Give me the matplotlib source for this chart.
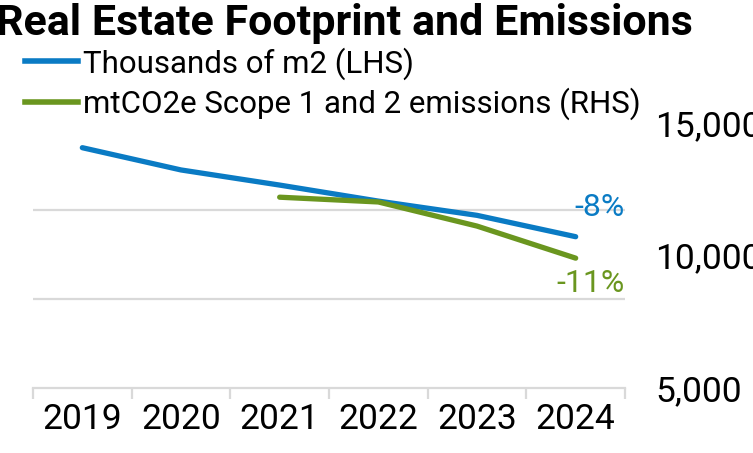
import matplotlib
matplotlib.use("Agg")
import matplotlib.pyplot as plt
from matplotlib.lines import Line2D

plt.rcParams['font.family'] = ['Roboto', 'DejaVu Sans']

years = ["2019", "2020", "2021", "2022", "2023", "2024"]
footprint = [370, 345, 328, 310, 294, 270]          # thousands of m2 (LHS)
emissions = [None, None, 12200, 12020, 11110, 9900]  # mtCO2e (RHS)
blue_label = "-8%"
green_label = "-11%"

BLUE = "#0A7BC4"
GREEN = "#6A961F"
GRID = "#D9D9D9"

W, H = 753, 453
fig = plt.figure(figsize=(W / 100, H / 100), dpi=100)
ax_left, ax_right = 33 / W, 625 / W
ax_bot, ax_top = (H - 388) / H, (H - 123) / H
ax = fig.add_axes([ax_left, ax_bot, ax_right - ax_left, ax_top - ax_bot])
ax2 = ax.twinx()

x = list(range(len(years)))
ax.plot(x, footprint, color=BLUE, lw=3.8, solid_capstyle='round', zorder=3)
xe = [i for i, v in zip(x, emissions) if v is not None]
ve = [v for v in emissions if v is not None]
ax2.plot(xe, ve, color=GREEN, lw=3.8, solid_capstyle='round', zorder=3)

ax.set_xlim(-0.5, len(years) - 0.5)
ax.set_ylim(100, 100 + 265 / 89 * 100)
ax2.set_ylim(5000, 15000)

ax.set_yticks([200, 300])
ax.yaxis.grid(True, color=GRID, lw=1.6)
ax.tick_params(axis='y', left=False, labelleft=False)
ax.set_axisbelow(True)

ax.set_xticks(x)
ax.set_xticklabels(years, fontsize=25.5)
ax.set_xticks([i - 0.5 for i in range(len(years) + 1)], minor=True)
ax.tick_params(axis='x', which='major', length=0, pad=11)
ax.tick_params(axis='x', which='minor', length=8, width=1.6, color=GRID)

for s in ['top', 'left', 'right']:
    ax.spines[s].set_visible(False)
    ax2.spines[s].set_visible(False)
ax.spines['bottom'].set_color(GRID)
ax.spines['bottom'].set_linewidth(1.6)
ax2.spines['bottom'].set_visible(False)

ax2.set_yticks([5000, 10000, 15000])
ax2.set_yticklabels(["5,000", "10,000", "15,000"], fontsize=25.5)
ax2.tick_params(axis='y', length=0, pad=22)

ax.text(5.5, 303, blue_label, color=BLUE, fontsize=23, ha='right', va='center')
ax.text(5.5, 217, green_label, color=GREEN, fontsize=23, ha='right', va='center')

fig.text(-0.005, (H - 35) / H, "Real Estate Footprint and Emissions",
         fontsize=31, fontweight='bold', ha='left', va='baseline')

handles = [Line2D([0], [0], color=BLUE, lw=4),
           Line2D([0], [0], color=GREEN, lw=4)]
fig.legend(handles, ["Thousands of m2 (LHS)", "mtCO2e Scope 1 and 2 emissions (RHS)"],
           loc='upper left', bbox_to_anchor=(25 / W, (H - 47) / H), frameon=False,
           fontsize=22.5, handlelength=1.7, handletextpad=0.15, labelspacing=0.26,
           borderpad=0, borderaxespad=0)

fig.savefig("out.png", dpi=100)
